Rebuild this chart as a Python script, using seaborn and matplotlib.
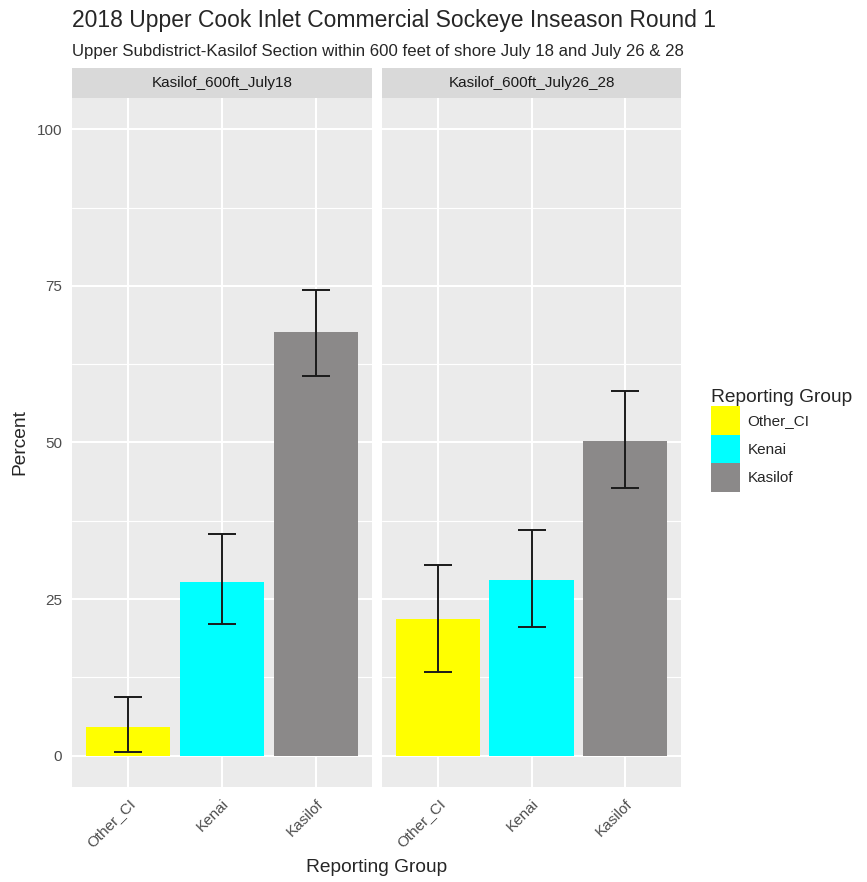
import pandas as pd
import numpy as np
import matplotlib.pyplot as plt
import seaborn as sns
from matplotlib.patches import Patch, Rectangle

# values
panels = ['Kasilof_600ft_July18', 'Kasilof_600ft_July26_28']
groups = ['Other_CI', 'Kenai', 'Kasilof']
mean_july18 = [4.5, 27.8, 67.6]
lo_july18 = [0.6, 21.0, 60.6]
hi_july18 = [9.4, 35.4, 74.4]
mean_july26 = [21.9, 28.0, 50.3]
lo_july26 = [13.4, 20.5, 42.7]
hi_july26 = [30.4, 36.0, 58.2]
colors = ['#FFFF00', '#00FFFF', '#8B8989']

df = pd.DataFrame({
    'panel': np.repeat(panels, len(groups)),
    'group': groups * len(panels),
    'mean': mean_july18 + mean_july26,
    'lo': lo_july18 + lo_july26,
    'hi': hi_july18 + hi_july26,
})

sns.set_style('white')
plt.rcParams['font.family'] = ['Liberation Sans', 'DejaVu Sans']

W, H = 867, 882
fig = plt.figure(figsize=(W / 100, H / 100), dpi=100)

def fx(px):
    return px / W

def fy(py):
    return 1 - py / H

panel_x = [(72, 372), (382, 681)]
top, bottom = 98, 787
strip_top = 68
palette = dict(zip(groups, colors))

for i, (name, (x0, x1)) in enumerate(zip(panels, panel_x)):
    ax = fig.add_axes([fx(x0), fy(bottom), fx(x1 - x0), (bottom - top) / H])
    ax.set_facecolor('#EBEBEB')
    sub = df[df['panel'] == name]
    sns.barplot(data=sub, x='group', y='mean', hue='group', order=groups,
                hue_order=groups, palette=palette, width=0.9, legend=False,
                saturation=1, errorbar=None, linewidth=0, ax=ax, zorder=2)
    pos = [groups.index(g) for g in sub['group']]
    yerr = [sub['mean'] - sub['lo'], sub['hi'] - sub['mean']]
    ax.errorbar(pos, sub['mean'], yerr=yerr, fmt='none', ecolor='#1A1A1A',
                elinewidth=1.4, capsize=10, capthick=1.4, zorder=3)
    ax.set_xlim(-0.6, 2.6)
    ax.set_ylim(-5, 105)
    ax.set_yticks([0, 25, 50, 75, 100])
    ax.set_yticks([12.5, 37.5, 62.5, 87.5], minor=True)
    ax.grid(True, which='major', color='white', linewidth=1.5, zorder=0)
    ax.grid(True, which='minor', axis='y', color='white', linewidth=0.8, zorder=0)
    ax.set_axisbelow(True)
    for s in ax.spines.values():
        s.set_visible(False)
    ax.tick_params(axis='both', which='major', length=4, width=1, color='#333333',
                   labelsize=11, labelcolor='#4D4D4D', pad=3)
    ax.tick_params(axis='y', which='minor', length=0)
    plt.setp(ax.get_xticklabels(), rotation=45, ha='right', rotation_mode='anchor')
    ax.set_xlabel('')
    ax.set_ylabel('')
    if i > 0:
        ax.tick_params(axis='y', which='major', length=0, labelleft=False)

    # facet strip
    fig.patches.append(Rectangle((fx(x0), fy(top)), fx(x1 - x0), (top - strip_top) / H,
                                 transform=fig.transFigure, facecolor='#D9D9D9',
                                 edgecolor='none'))
    fig.text(fx((x0 + x1) / 2), fy((top + strip_top) / 2), name, ha='center',
             va='center', fontsize=11, color='#1A1A1A')

fig.text(fx(72), fy(27), '2018 Upper Cook Inlet Commercial Sockeye Inseason Round 1',
         fontsize=16.5, ha='left', va='baseline')
fig.text(fx(72), fy(56), 'Upper Subdistrict-Kasilof Section within 600 feet of shore July 18 and July 26 & 28',
         fontsize=12.1, ha='left', va='baseline')
fig.text(fx(377), fy(868), 'Reporting Group', fontsize=13.8, ha='center', va='center')
fig.text(fx(20), fy(442), 'Percent', fontsize=13.8, ha='center', va='center', rotation=90)

handles = [Patch(facecolor=c, edgecolor='none', label=g) for g, c in zip(groups, colors)]
leg = fig.legend(handles=handles, title='Reporting Group', loc='upper left',
                 bbox_to_anchor=(fx(711), fy(389)), frameon=False, fontsize=11,
                 title_fontsize=13.8, handlelength=1.9, handleheight=2.5,
                 labelspacing=0.0, handletextpad=0.5, borderaxespad=0, borderpad=0)
leg._legend_box.align = 'left'

fig.savefig('out.png', dpi=100)
